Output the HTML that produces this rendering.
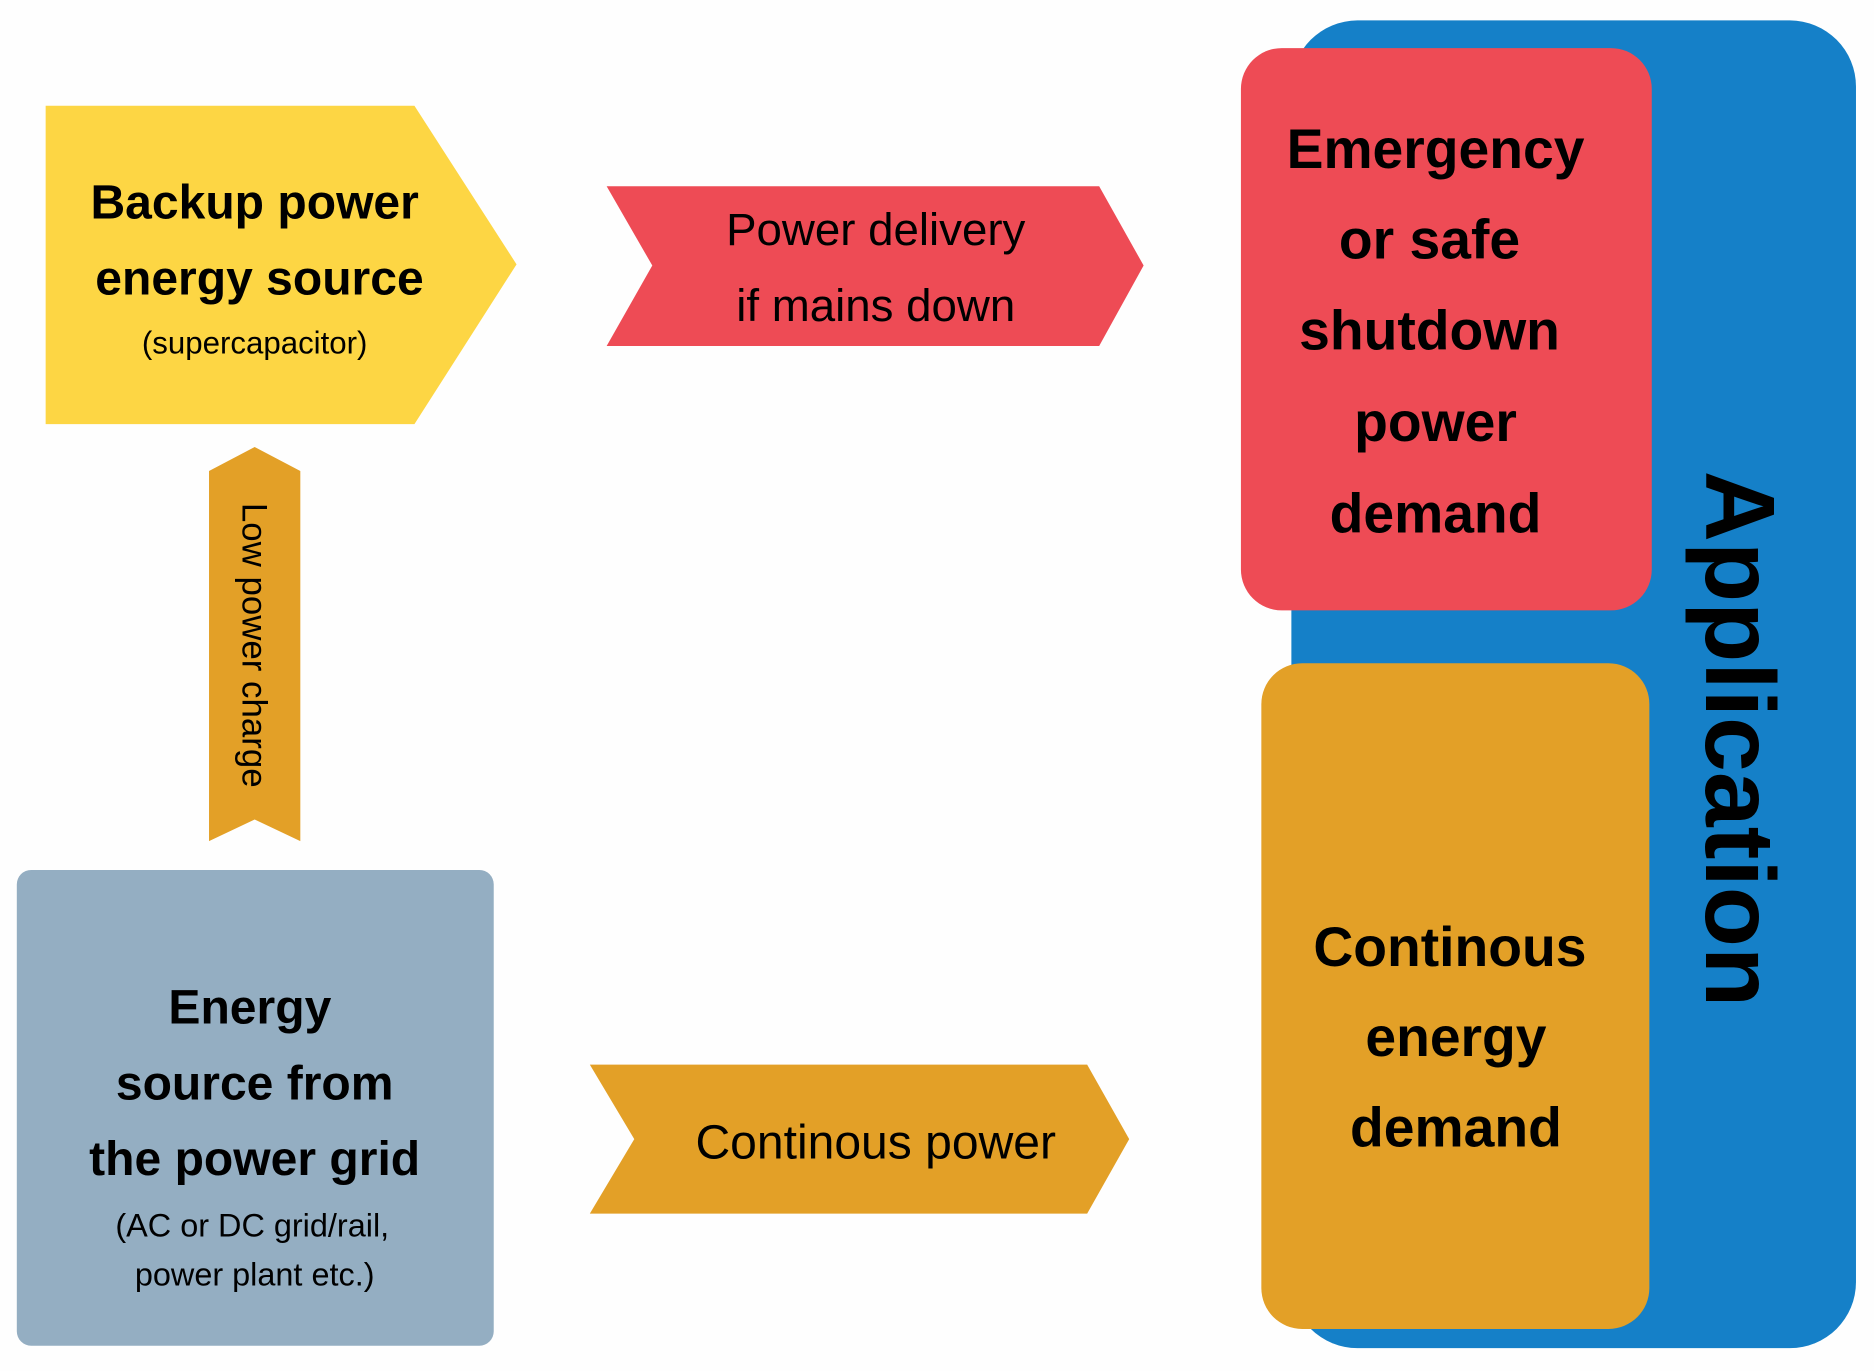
<!DOCTYPE html>
<html><head><meta charset="utf-8"><style>html,body{margin:0;padding:0;background:#fff;}svg{display:block}</style></head>
<body>
<svg width="1874" height="1371" viewBox="0 0 1560 1141" preserveAspectRatio="none" xmlns="http://www.w3.org/2000/svg" font-family="'Liberation Sans', 'DejaVu Sans', sans-serif">
<rect x="0" y="0" width="1560" height="1141" fill="#fefefe"/>
<!-- Application blue -->
<rect x="1075" y="17" width="470" height="1105" rx="55" fill="#1580c8"/>
<text transform="translate(1420,615) rotate(90)" text-anchor="middle" font-size="82" font-weight="bold" fill="#000">Application</text>
<!-- red box -->
<rect x="1033" y="40" width="342" height="468" rx="34" fill="#ee4b55"/>
<g font-size="46" font-weight="bold" text-anchor="middle" fill="#000">
<text x="1195" y="140">Emergency</text>
<text x="1190" y="215">or safe</text>
<text x="1190" y="291">shutdown</text>
<text x="1195" y="367">power</text>
<text x="1195" y="443">demand</text>
</g>
<!-- orange box -->
<rect x="1050" y="552" width="323" height="554" rx="34" fill="#e3a027"/>
<g font-size="46" font-weight="bold" text-anchor="middle" fill="#000">
<text x="1207" y="804">Continous</text>
<text x="1212" y="879">energy</text>
<text x="1212" y="954">demand</text>
</g>
<!-- yellow pentagon -->
<polygon points="38,88 345,88 430,220 345,353 38,353" fill="#fdd644"/>
<g text-anchor="middle" fill="#000">
<text x="212" y="182" font-size="40" font-weight="bold">Backup power</text>
<text x="216" y="245" font-size="40" font-weight="bold">energy source</text>
<text x="212" y="294" font-size="26">(supercapacitor)</text>
</g>
<!-- red arrow -->
<polygon points="505,155 915,155 952,221 915,288 505,288 543,221" fill="#ee4b55"/>
<text x="729" y="204" font-size="38" text-anchor="middle" fill="#000">Power delivery</text>
<text x="729" y="267" font-size="38" text-anchor="middle" fill="#000">if mains down</text>
<!-- vertical orange arrow -->
<polygon points="212,372 250,392 250,700 212,682 174,700 174,392" fill="#e3a027"/>
<text transform="translate(202,537) rotate(90)" text-anchor="middle" font-size="29" fill="#000">Low power charge</text>
<!-- grid box -->
<rect x="14" y="724" width="397" height="396" rx="12" fill="#94aec2"/>
<g text-anchor="middle" fill="#000">
<text x="208" y="852" font-size="40" font-weight="bold">Energy</text>
<text x="212" y="915" font-size="40" font-weight="bold">source from</text>
<text x="212" y="978" font-size="40" font-weight="bold">the power grid</text>
<text x="210" y="1029" font-size="27">(AC or DC grid/rail,</text>
<text x="212" y="1070" font-size="27">power plant etc.)</text>
</g>
<!-- bottom orange arrow -->
<polygon points="491,886 905,886 940,948 905,1010 491,1010 528,948" fill="#e3a027"/>
<text x="729" y="964" font-size="40" text-anchor="middle" fill="#000">Continous power</text>
</svg>
</body></html>
